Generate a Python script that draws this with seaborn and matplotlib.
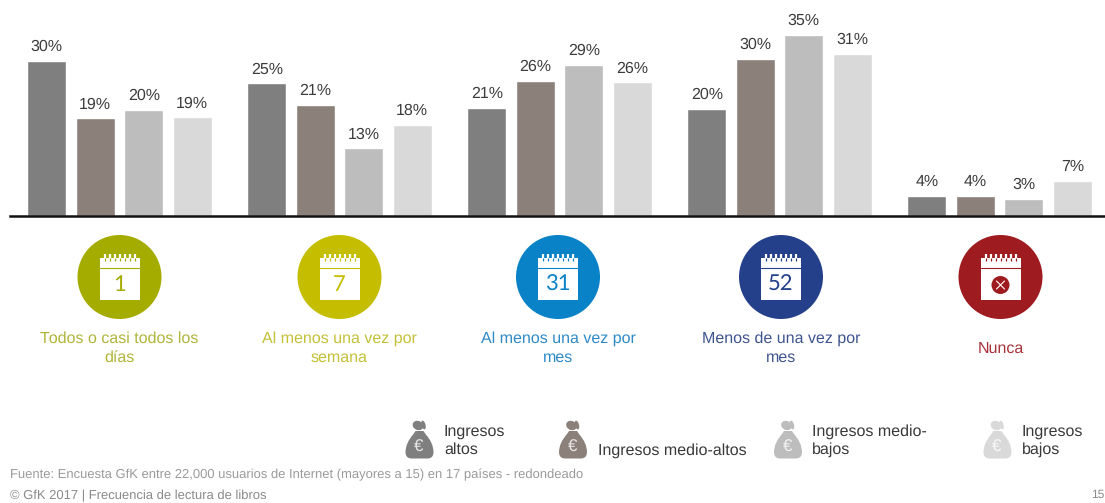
import numpy as np
import pandas as pd
import seaborn as sns
import matplotlib
matplotlib.use("Agg")
import matplotlib.pyplot as plt
from matplotlib.patches import Ellipse, Rectangle, PathPatch, Circle
from matplotlib.path import Path

categories = ["Todos o casi todos los\ndías", "Al menos una vez por\nsemana", "Al menos una vez por\nmes",
              "Menos de una vez por\nmes", "Nunca"]
day_numbers = ["1", "7", "31", "52", ""]
income_groups = ["Ingresos altos", "Ingresos medio-altos", "Ingresos medio-bajos", "Ingresos bajos"]
alto = [30.0, 25.7, 20.9, 20.7, 3.9]
medio_alto = [18.9, 21.6, 26.1, 30.4, 3.9]
medio_bajo = [20.5, 13.1, 29.2, 35.1, 3.3]
bajo = [19.1, 17.7, 25.9, 31.4, 6.8]
alto_labels = ["30%", "25%", "21%", "20%", "4%"]
medio_alto_labels = ["19%", "21%", "26%", "30%", "4%"]
medio_bajo_labels = ["20%", "13%", "29%", "35%", "3%"]
bajo_labels = ["19%", "18%", "26%", "31%", "7%"]

W, H = 1105, 503
BAR_COLORS = ["#7f7f7f", "#8c817a", "#bdbdbd", "#d9d9d9"]
CIRCLE_COLORS = ["#a5ac00", "#c4bd00", "#0a82c8", "#24408a", "#9e1b20"]
TEXT_COLORS = ["#b0b53a", "#c4c038", "#2e8ac6", "#3f5590", "#a8323a"]
CIRCLE_X = [119.5, 339.5, 558, 781, 1000.5]

sns.set_theme(style="white")
plt.rcParams["font.family"] = ["Liberation Sans", "DejaVu Sans"]
plt.rcParams["text.hinting"] = "no_hinting"
plt.rcParams["text.hinting_factor"] = 1

df = pd.DataFrame({
    "cat": np.tile(categories, 4),
    "income": np.repeat(income_groups, 5),
    "value": alto + medio_alto + medio_bajo + bajo,
})

fig = plt.figure(figsize=(W / 100, H / 100), dpi=100, facecolor="white")
left, bottom_y = 9.5, 216
ax = fig.add_axes([left / W, 1 - bottom_y / H, (W - left) / W, bottom_y / H])
sns.barplot(data=df, x="cat", y="value", hue="income", order=categories,
            hue_order=income_groups, palette=BAR_COLORS, saturation=1, width=0.882, gap=0.186,
            legend=False, ax=ax)
ax.set_xlim(-0.5, -0.5 + (W - left) / 220)
ax.set_ylim(0, bottom_y / 5.16)
for s in ["top", "left", "right"]:
    ax.spines[s].set_visible(False)
ax.spines["bottom"].set_linewidth(1.8)
ax.spines["bottom"].set_color("#111111")
ax.set_xticks([]); ax.set_yticks([])
ax.set_xlabel(""); ax.set_ylabel("")
all_labels = [alto_labels, medio_alto_labels, medio_bajo_labels, bajo_labels]
for cont, labs in zip(ax.containers, all_labels):
    ax.bar_label(cont, labels=labs, padding=4.8, fontsize=11.8, color="#3c3c3c")

ov = fig.add_axes([0, 0, 1, 1], facecolor="none")
ov.set_xlim(0, W); ov.set_ylim(H, 0); ov.axis("off")


def calendar(cx, color, num):
    ov.add_patch(Ellipse((cx, 277), 84, 84, fc=color, ec="none"))
    ov.add_patch(Rectangle((cx - 20, 258), 40, 42, fc="white", ec="none"))
    ov.plot([cx - 20, cx + 20], [267.5, 267.5], color=color, lw=0.8)
    for dx in np.linspace(-15, 15, 7):
        ov.plot([cx + dx, cx + dx], [253.5, 258], color="white", lw=1.6, solid_capstyle="butt")
        ov.plot([cx + dx, cx + dx], [258, 260.5], color=color, lw=0.9, solid_capstyle="butt")
    if num:
        ov.text(cx, 284.5, num, ha="center", va="center", fontsize=16, color=color,
                family="Lato")
    else:
        ov.add_patch(Circle((cx, 285), 9, fc=color, ec="none"))
        ov.plot([cx - 4, cx + 4], [281, 289], color="white", lw=0.8)
        ov.plot([cx - 4, cx + 4], [289, 281], color="white", lw=0.8)


for cx, col, tc, num, cat in zip(CIRCLE_X, CIRCLE_COLORS, TEXT_COLORS, day_numbers, categories):
    calendar(cx, col, num)
    ov.text(cx, 348.5, cat, ha="center", va="center", fontsize=11.8, color=tc, linespacing=1.38)


def bag(cx, color):
    verts = [(cx - 4, 431), (cx - 6, 434), (cx - 14, 443), (cx - 14, 452), (cx - 14, 458.5), (cx - 8, 458.5),
             (cx + 8, 458.5), (cx + 14, 458.5), (cx + 14, 452), (cx + 14, 443),
             (cx + 6, 434), (cx + 4, 431), (cx - 4, 431)]
    codes = [Path.MOVETO, Path.LINETO, Path.CURVE3, Path.CURVE3, Path.CURVE3, Path.CURVE3,
             Path.LINETO, Path.CURVE3, Path.CURVE3, Path.CURVE3,
             Path.CURVE3, Path.LINETO, Path.CLOSEPOLY]
    ov.add_patch(PathPatch(Path(verts, codes), fc=color, ec="none"))
    ov.add_patch(Ellipse((cx - 1.5, 425.5), 11, 9, angle=25, fc=color, ec="none"))
    ov.add_patch(Ellipse((cx + 4, 425), 4, 9, angle=-15, fc=color, ec="none"))
    ov.text(cx - 0.5, 447, "€", ha="center", va="center", fontsize=12, color="white", alpha=0.8)


for cx, col in zip([419.5, 573, 788, 997.5], BAR_COLORS):
    bag(cx, col)

LEG = "#3a3a3a"
FS = 11.85
ov.text(444, 440.5, "Ingresos\naltos", ha="left", va="center", fontsize=FS, color=LEG, linespacing=1.3)
ov.text(598, 450.5, "Ingresos medio-altos", ha="left", va="center", fontsize=FS, color=LEG)
ov.text(812, 440.5, "Ingresos medio-\nbajos", ha="left", va="center", fontsize=FS, color=LEG, linespacing=1.3)
ov.text(1022, 440.5, "Ingresos\nbajos", ha="left", va="center", fontsize=FS, color=LEG, linespacing=1.3)

ov.text(10, 474.5, "Fuente: Encuesta GfK entre 22,000 usuarios de Internet (mayores a 15) en 17 países - redondeado",
        ha="left", va="center", fontsize=9.17, color="#9a9a9a")
ov.text(10, 496, "© GfK 2017 | Frecuencia de lectura de libros", ha="left", va="center", fontsize=9.15, color="#8a8a8a")
ov.text(1104, 495, "15", ha="right", va="center", fontsize=8.5, color="#8a8a8a")

fig.savefig("out.png", dpi=100, facecolor="white")
